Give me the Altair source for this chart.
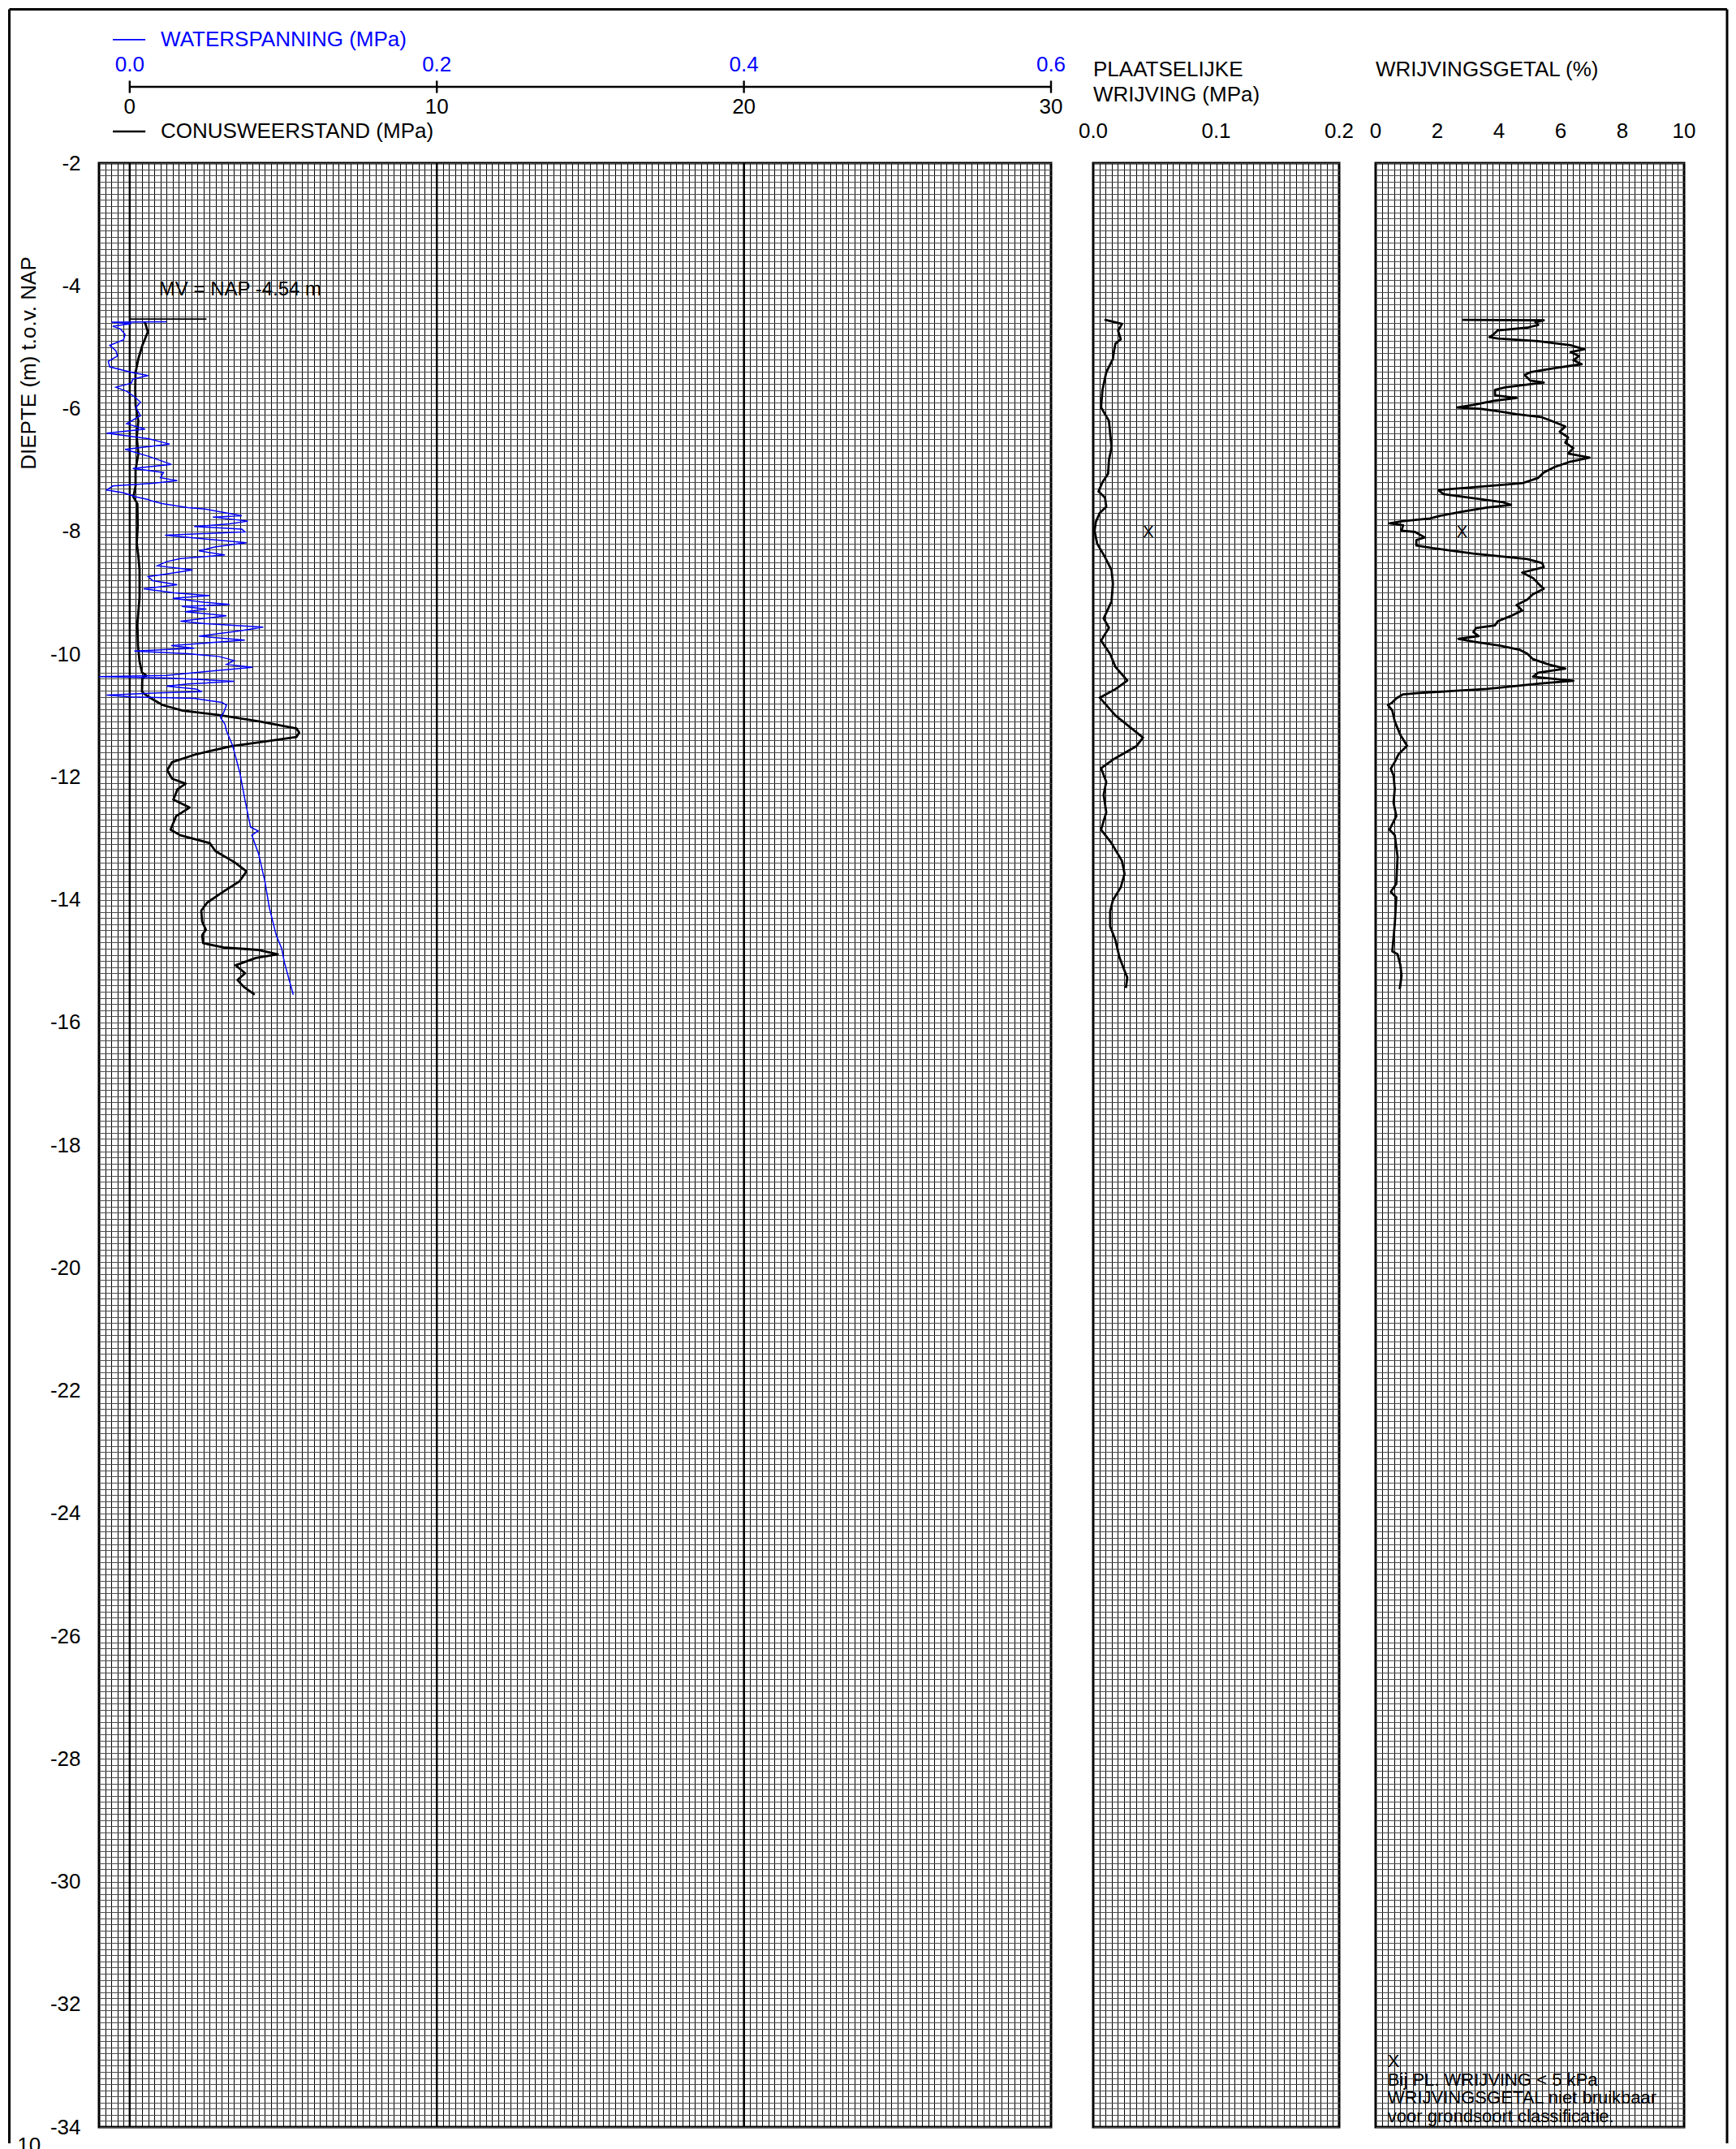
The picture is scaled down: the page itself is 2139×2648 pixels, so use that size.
import altair as alt
import pandas as pd

FONT = "Liberation Sans"
BLUE = "#0000ff"
GRID_X = "#000000"
GRID_Y = "#4d4d4d"
FSZ = 26

# ---------------- data (depth in m t.o.v. NAP) ----------------
qc_depth = [-4.59, -4.615, -4.75, -4.97, -5.19, -5.41, -5.67, -5.94, -6.20, -6.47,
            -6.73, -7.00, -7.26, -7.44, -7.55, -7.92, -8.19, -8.40, -8.63, -9.07,
            -9.51, -9.87, -10.12, -10.30, -10.35, -10.39, -10.61, -10.65, -10.74, -10.83,
            -10.92, -10.99, -11.10, -11.21, -11.28, -11.35, -11.42, -11.50, -11.63, -11.76,
            -11.89, -12.03, -12.11, -12.20, -12.37, -12.50, -12.64, -12.86, -12.95, -13.08,
            -13.21, -13.39, -13.54, -13.70, -13.87, -14.05, -14.18, -14.36, -14.49, -14.58,
            -14.71, -14.78, -14.82, -14.89, -14.95, -15.07, -15.20, -15.31, -15.42, -15.55]
qc_value = [0.48, 0.51, 0.59, 0.41, 0.28, 0.19, 0.18, 0.19, 0.28, 0.23,
            0.28, 0.19, 0.19, 0.12, 0.25, 0.26, 0.23, 0.28, 0.32, 0.32,
            0.25, 0.27, 0.32, 0.40, 0.54, 0.41, 0.40, 0.48, 0.76, 1.07,
            1.72, 2.88, 4.25, 5.43, 5.52, 5.43, 4.46, 3.32, 2.17, 1.38,
            1.22, 1.38, 1.82, 1.56, 1.42, 1.95, 1.51, 1.33, 1.64, 2.61,
            2.79, 3.41, 3.80, 3.58, 3.05, 2.52, 2.33, 2.36, 2.48, 2.36,
            2.39, 3.05, 4.20, 4.82, 4.11, 3.45, 3.76, 3.51, 3.71, 4.07]

u_depth = [-4.584, -4.593, -4.615, -4.659, -4.703, -4.791, -4.879, -4.968, -5.056, -5.144,
           -5.232, -5.320, -5.408, -5.461, -5.519, -5.585, -5.651, -5.717, -5.805, -5.894,
           -5.982, -6.114, -6.246, -6.334, -6.401, -6.489, -6.577, -6.665, -6.775, -6.908,
           -6.974, -7.040, -7.128, -7.172, -7.216, -7.260, -7.326, -7.371, -7.437, -7.481,
           -7.502, -7.546, -7.613, -7.635, -7.745, -7.767, -7.833, -7.877, -7.921, -7.965,
           -8.009, -8.062, -8.120, -8.186, -8.252, -8.318, -8.384, -8.442, -8.494, -8.561,
           -8.627, -8.693, -8.737, -8.803, -8.869, -8.935, -9.002, -9.046, -9.090, -9.156,
           -9.191, -9.222, -9.266, -9.310, -9.376, -9.464, -9.509, -9.561, -9.619, -9.707,
           -9.773, -9.861, -9.905, -9.950, -9.994, -10.038, -10.104, -10.170, -10.214, -10.280,
           -10.346, -10.368, -10.390, -10.443, -10.487, -10.523, -10.567, -10.611, -10.633, -10.668,
           -10.699, -10.721, -10.787, -10.831, -10.964, -11.030, -11.140, -11.250, -11.49, -11.93,
           -12.37, -12.82, -12.88, -12.95, -13.26, -13.70, -14.14, -14.58, -14.80, -15.02,
           -15.55]
u_value = [0.024, -0.012, 0.001, -0.011, -0.006, -0.003, -0.004, -0.013, -0.009, -0.008,
           -0.014, -0.013, 0.001, 0.012, 0.002, 0.001, -0.009, -0.002, 0.003, 0.007,
           0.004, 0.007, -0.002, 0.010, -0.015, 0.012, 0.026, -0.003, 0.012, 0.027,
           0.002, 0.022, 0.020, 0.031, 0.015, -0.011, -0.015, -0.004, 0.004, 0.012,
           0.014, 0.021, 0.038, 0.049, 0.073, 0.054, 0.077, 0.065, 0.042, 0.073,
           0.075, 0.023, 0.047, 0.076, 0.056, 0.045, 0.062, 0.033, 0.024, 0.018,
           0.041, 0.024, 0.012, 0.015, 0.031, 0.009, 0.029, 0.052, 0.028, 0.049,
           0.065, 0.034, 0.050, 0.036, 0.063, 0.033, 0.052, 0.087, 0.072, 0.045,
           0.075, 0.027, 0.042, 0.003, 0.038, 0.058, 0.068, 0.063, 0.080, 0.051,
           0.024, -0.020, 0.026, 0.068, 0.038, 0.024, 0.043, 0.047, 0.019, -0.015,
           0.001, 0.042, 0.060, 0.063, 0.061, 0.059, 0.062, 0.063, 0.067, 0.0717,
           0.075, 0.0787, 0.0836, 0.0795, 0.084, 0.088, 0.091, 0.0954, 0.099, 0.1007,
           0.1065]

fs_depth = [-4.549, -4.62, -4.73, -4.87, -4.94, -5.05, -5.19, -5.41, -5.70, -5.98,
            -6.20, -6.41, -6.63, -6.84, -7.06, -7.20, -7.35, -7.45, -7.60, -7.70,
            -7.85, -7.99, -8.20, -8.42, -8.63, -8.85, -9.14, -9.42, -9.57, -9.78,
            -10.00, -10.21, -10.43, -10.57, -10.71, -11.00, -11.36, -11.50, -11.72, -11.86,
            -12.08, -12.29, -12.58, -12.86, -13.08, -13.37, -13.58, -13.80, -14.01, -14.19,
            -14.44, -14.66, -14.94, -15.16, -15.27, -15.44]
fs_value = [0.0092, 0.0234, 0.0202, 0.0224, 0.0181, 0.0170, 0.0160, 0.0106, 0.0075, 0.0064,
            0.0128, 0.0138, 0.0149, 0.0128, 0.0121, 0.0075, 0.0043, 0.0096, 0.0106, 0.0053,
            0.0021, 0.0011, 0.0032, 0.0096, 0.0149, 0.0160, 0.0149, 0.0085, 0.0128, 0.0064,
            0.0138, 0.0181, 0.0277, 0.0181, 0.0053, 0.0181, 0.0405, 0.0351, 0.0160, 0.0064,
            0.0106, 0.0085, 0.0106, 0.0064, 0.0149, 0.0234, 0.0255, 0.0224, 0.0160, 0.0138,
            0.0138, 0.0181, 0.0213, 0.0255, 0.0277, 0.0266]

rf_depth = [-4.553, -4.562, -4.593, -4.637, -4.681, -4.725, -4.791, -4.835, -4.857, -4.901,
            -4.967, -5.034, -5.078, -5.144, -5.210, -5.276, -5.342, -5.408, -5.452, -5.541,
            -5.576, -5.607, -5.651, -5.695, -5.783, -5.827, -5.871, -5.938, -5.982, -6.004,
            -6.048, -6.092, -6.136, -6.202, -6.290, -6.378, -6.467, -6.555, -6.643, -6.731,
            -6.797, -6.863, -6.952, -7.040, -7.128, -7.216, -7.282, -7.326, -7.393, -7.459,
            -7.525, -7.569, -7.613, -7.679, -7.745, -7.789, -7.833, -7.869, -7.900, -7.988,
            -8.010, -8.098, -8.142, -8.230, -8.274, -8.362, -8.451, -8.517, -8.583, -8.671,
            -8.759, -8.848, -8.936, -9.024, -9.112, -9.200, -9.289, -9.377, -9.465, -9.531,
            -9.575, -9.641, -9.707, -9.751, -9.796, -9.862, -9.928, -9.994, -10.082, -10.170,
            -10.236, -10.302, -10.369, -10.435, -10.479, -10.567, -10.633, -10.655, -10.721, -10.788,
            -10.832, -10.919, -11.096, -11.316, -11.493, -11.625, -11.757, -11.867, -11.978, -12.198,
            -12.419, -12.639, -12.860, -12.948, -13.300, -13.741, -13.874, -13.962, -14.403, -14.844,
            -14.888, -15.064, -15.240, -15.461]
rf_value = [2.82, 5.45, 5.18, 5.27, 4.92, 3.96, 3.82, 3.69, 3.96, 5.27,
            6.32, 6.76, 6.32, 6.59, 6.41, 6.68, 5.80, 5.01, 4.83, 5.01,
            5.45, 4.92, 4.22, 3.87, 3.87, 4.57, 3.87, 3.17, 2.64, 3.43,
            4.04, 4.57, 5.36, 5.71, 6.15, 5.97, 6.24, 6.15, 6.41, 6.24,
            6.94, 6.32, 5.80, 5.45, 5.27, 4.75, 3.17, 2.03, 2.20, 3.17,
            4.13, 4.39, 3.61, 2.82, 2.11, 1.76, 0.89, 0.45, 0.89, 0.84,
            1.28, 1.59, 1.32, 1.32, 1.85, 3.17, 4.92, 5.40, 5.45, 4.75,
            5.10, 5.27, 5.45, 5.10, 4.92, 4.57, 4.75, 4.39, 3.96, 3.87,
            3.25, 3.17, 3.34, 2.68, 3.17, 4.04, 4.66, 4.92, 5.10, 5.62,
            6.15, 5.27, 5.10, 6.41, 5.36, 3.61, 1.41, 0.89, 0.67, 0.54,
            0.40, 0.54, 0.62, 0.80, 1.02, 0.75, 0.62, 0.49, 0.58, 0.62,
            0.58, 0.67, 0.45, 0.62, 0.71, 0.67, 0.49, 0.67, 0.62, 0.54,
            0.71, 0.80, 0.84, 0.78]

# labels / texts
cone_ticks = [0, 10, 20, 30]
cone_tick_labels = ["0", "10", "20", "30"]
water_tick_labels = ["0.0", "0.2", "0.4", "0.6"]
fs_ticks = [0.0, 0.1, 0.2]
fs_tick_labels = ["0.0", "0.1", "0.2"]
rf_ticks = [0, 2, 4, 6, 8, 10]
rf_tick_labels = ["0", "2", "4", "6", "8", "10"]
note_lines = ["X", "Bij PL. WRIJVING < 5 kPa", "WRIJVINGSGETAL niet bruikbaar",
              "voor grondsoort classificatie."]
note_depths = [-32.93, -33.23, -33.52, -33.83]
mv_level = -4.54
no_class_marker_depth = -8.01

# ---------------- layout constants ----------------
H = 2420
W_LEFT, W_MID, W_RIGHT = 1173, 303, 380
HDR_TITLE_D = -0.479
HDR_TITLE2_D = -0.889
HDR_TICK_D = -1.484

ygrid = [round(-34 + 0.1 * i, 1) for i in range(321)]
yscale = alt.Scale(domain=[-34, -2], nice=False, zero=False)

LABEL_EXPR = ("abs(datum.value - 2*round(datum.value/2)) < 0.01 ? "
              "(datum.value < 0 ? '-' + abs(round(datum.value)) : '' + round(datum.value)) : ''")

y_axis_left = alt.Axis(values=ygrid, grid=True, gridColor=GRID_Y, gridWidth=1,
                       ticks=False, tickSize=0, domain=False, labelExpr=LABEL_EXPR,
                       labelFont=FONT, labelFontSize=FSZ, labelColor="black",
                       labelPadding=23, labelOverlap=False, labelFlush=False,
                       title="DIEPTE (m) t.o.v. NAP", titleFont=FONT, titleFontSize=FSZ,
                       titleFontWeight="normal", titleColor="black", titleAngle=270,
                       titleX=-87, titleY=246, titleAlign="center", titleBaseline="middle")
y_axis_plain = alt.Axis(values=ygrid, grid=True, gridColor=GRID_Y, gridWidth=1,
                        ticks=False, tickSize=0, domain=False, labels=False)


def x_grid_axis(vals):
    return alt.Axis(values=vals, grid=True, gridColor=GRID_X, gridWidth=1,
                    ticks=False, tickSize=0, domain=False, labels=False)


class Panel:
    def __init__(self, domain, gridvals, yaxis, left=False):
        self.xscale = alt.Scale(domain=domain, nice=False, zero=False)
        self.xaxis = x_grid_axis(gridvals)
        self.yaxis = yaxis
        self.left = left

    def X(self, f="v"):
        return alt.X(f"{f}:Q", scale=self.xscale, axis=self.xaxis, title=None)

    def Y(self, f="d"):
        if self.left:
            return alt.Y(f"{f}:Q", scale=yscale, axis=self.yaxis)
        return alt.Y(f"{f}:Q", scale=yscale, axis=self.yaxis, title=None)

    def text(self, df, align, color="black", size=FSZ):
        return alt.Chart(df).mark_text(align=align, baseline="middle", font=FONT,
                                       fontSize=size, color=color).encode(
            x=self.X(), y=self.Y(), text="t:N")

    def segs(self, df, color="black", width=2.5):
        return alt.Chart(df).mark_rule(color=color, strokeWidth=width).encode(
            x=self.X("v"), x2="v2:Q", y=self.Y("d"), y2="d2:Q")

    def curve(self, depth, vals, color="black", width=2.8):
        df = pd.DataFrame({"d": depth, "v": vals})
        df["i"] = range(len(df))
        return alt.Chart(df).mark_line(color=color, strokeWidth=width,
                                       strokeJoin="round").encode(
            x=self.X(), y=self.Y(), order="i:Q")


# ---------------- left panel: conusweerstand + waterspanning ----------------
PL = Panel([-1, 30], [round(-1 + 0.2 * i, 1) for i in range(156)], y_axis_left, left=True)

major = alt.Chart(pd.DataFrame({"v": [0, 10, 20]})).mark_rule(
    color="black", strokeWidth=2.5).encode(x=PL.X())

qc_line = PL.curve(qc_depth, qc_value, "black", 2.8)

hdr_segs = pd.DataFrame({
    "v": [0, 0, 10, 20, 30, -0.55],
    "v2": [30, 0, 10, 20, 30, 0.51],
    "d": [-0.757, -0.657, -0.657, -0.657, -0.657, HDR_TICK_D],
    "d2": [-0.757, -0.857, -0.857, -0.857, -0.857, HDR_TICK_D],
})
left_segs = PL.segs(hdr_segs, "black", 2.4)
mv_seg = PL.segs(pd.DataFrame({"v": [0], "v2": [2.5], "d": [mv_level], "d2": [mv_level]}),
                 "black", 1.6)
blue_swatch = PL.segs(pd.DataFrame({"v": [-0.55], "v2": [0.51], "d": [0.011], "d2": [0.011]}),
                      BLUE, 1.6)

blue_center = PL.text(pd.DataFrame({"v": cone_ticks, "d": [-0.399] * 4,
                                    "t": water_tick_labels}), "center", BLUE)
blue_left = PL.text(pd.DataFrame({"v": [1.01], "d": [0.011],
                                  "t": ["WATERSPANNING (MPa)"]}), "left", BLUE)
black_center = PL.text(pd.DataFrame({"v": cone_ticks + [-3.28], "d": [-1.087] * 4 + [-34.31],
                                     "t": cone_tick_labels + ["10"]}), "center")
black_left = PL.text(pd.DataFrame({"v": [1.01], "d": [HDR_TICK_D],
                                   "t": ["CONUSWEERSTAND (MPa)"]}), "left")
mv_text = PL.text(pd.DataFrame({"v": [0.95], "d": [-4.057], "t": ["MV = NAP -4.54 m"]}),
                  "left", size=24)

one = pd.DataFrame({"k": [0]})
frame_top = alt.Chart(one).mark_rule(color="black", strokeWidth=3).encode(
    x=alt.value(-110.5), x2=alt.value(2006), y=alt.value(-189.5))
frame_left = alt.Chart(one).mark_rule(color="black", strokeWidth=3).encode(
    x=alt.value(-110.5), y=alt.value(-189.5), y2=alt.value(2440))
frame_right = alt.Chart(one).mark_rule(color="black", strokeWidth=3).encode(
    x=alt.value(2006), y=alt.value(-189.5), y2=alt.value(2440))

u_df = pd.DataFrame({"d": u_depth, "u": u_value})
u_df["i"] = range(len(u_df))
u_line = alt.Chart(u_df).mark_line(color=BLUE, strokeWidth=1.5).encode(
    x=alt.X("u:Q", scale=alt.Scale(domain=[-0.02, 0.6], nice=False, zero=False), axis=None),
    y=PL.Y(), order="i:Q")

left_base = alt.layer(major, left_segs, mv_seg, blue_swatch, blue_center, blue_left,
                      black_center, black_left, mv_text, frame_top, frame_left,
                      frame_right, qc_line)
left = alt.layer(left_base, u_line).resolve_scale(x="independent").properties(
    width=W_LEFT, height=H)

# ---------------- middle panel: plaatselijke wrijving ----------------
PM = Panel([0, 0.2], [round(0.005 * i, 3) for i in range(41)], y_axis_plain)
fs_line = PM.curve(fs_depth, fs_value, "black", 2.8)
mid_left_txt = PM.text(pd.DataFrame({"v": [0, 0], "d": [HDR_TITLE_D, HDR_TITLE2_D],
                                     "t": ["PLAATSELIJKE", "WRIJVING (MPa)"]}), "left")
mid_ticks = PM.text(pd.DataFrame({"v": fs_ticks, "d": [HDR_TICK_D] * 3,
                                  "t": fs_tick_labels}), "center")
mid_x = PM.text(pd.DataFrame({"v": [0.0449], "d": [no_class_marker_depth], "t": ["X"]}),
                "center", size=20)
mid = alt.layer(fs_line, mid_left_txt, mid_ticks, mid_x).properties(width=W_MID, height=H)

# ---------------- right panel: wrijvingsgetal ----------------
PR = Panel([0, 10], [round(0.2 * i, 1) for i in range(51)], y_axis_plain)
rf_line = PR.curve(rf_depth, rf_value, "black", 2.8)
r_title = PR.text(pd.DataFrame({"v": [0], "d": [HDR_TITLE_D],
                                "t": ["WRIJVINGSGETAL (%)"]}), "left")
r_ticks = PR.text(pd.DataFrame({"v": rf_ticks, "d": [HDR_TICK_D] * 6,
                                "t": rf_tick_labels}), "center")
r_x = PR.text(pd.DataFrame({"v": [2.80], "d": [no_class_marker_depth], "t": ["X"]}),
              "center", size=20)
r_note = PR.text(pd.DataFrame({"v": [0.39] * 4, "d": note_depths, "t": note_lines}),
                 "left", size=22)
right = alt.layer(rf_line, r_title, r_ticks, r_x, r_note).properties(width=W_RIGHT, height=H)

chart = alt.hconcat(
    left,
    alt.hconcat(mid, right, spacing=45, bounds="flush"),
    spacing=52, bounds="flush",
).properties(padding=0).configure_view(stroke="black", strokeWidth=3)

chart.save("out.html", embed_options={"renderer": "svg", "actions": False})
